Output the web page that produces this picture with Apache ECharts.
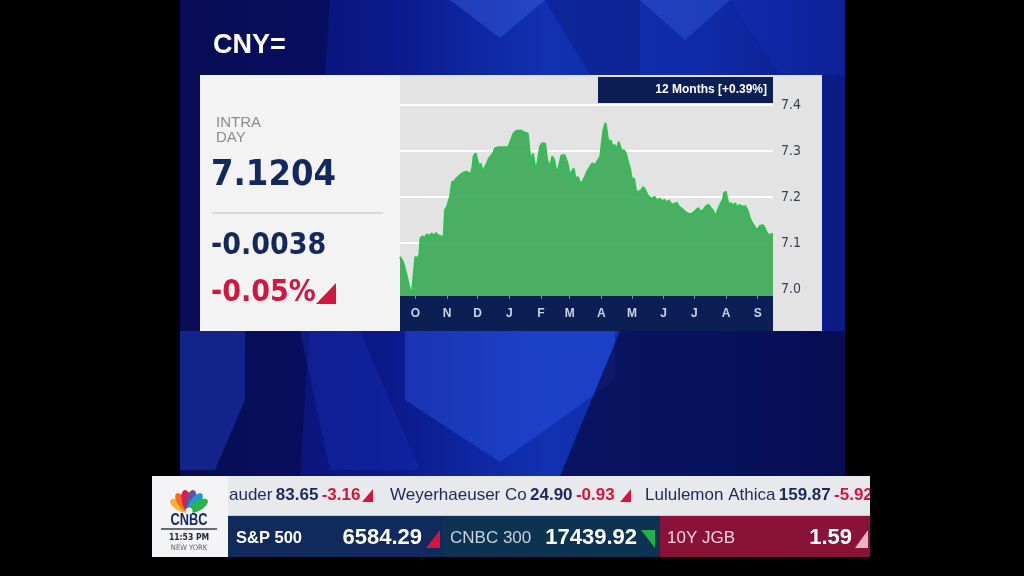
<!DOCTYPE html>
<html>
<head>
<meta charset="utf-8">
<script src="https://cdn.jsdelivr.net/npm/echarts@6/dist/echarts.min.js"></script>
<style>
html,body{margin:0;padding:0;background:#000;}
#c{width:1024px;height:576px;}
</style>
</head>
<body>
<div id="c"></div>
<script>
// ---- data ----
const startDate = '2024-09-16';
// days since startDate
const days = [0,3,6,9,11,12,15,17,19,20,22,24,26,29,31,33,35,37,38,40,42,43,44,46,47,49,51,53,55,57,59,62,65,67,69,71,72,74,76,78,79,81,85,87,91,93,96,101,106,108,111,114,119,122,125,127,129,130,133,135,137,139,142,144,147,149,151,153,155,158,161,164,166,168,170,172,174,176,178,181,183,186,188,191,193,196,197,199,201,202,204,206,208,210,212,214,217,219,221,223,225,227,229,231,234,236,238,240,242,244,247,249,252,254,257,259,261,263,266,268,271,273,275,279,282,285,288,292,294,297,299,302,304,306,309,311,314,316,317,319,320,322,324,326,328,330,332,335,338,340,342,344,346,348,350,352,355,357,359,361,363,365];
const values = [7.070,7.059,7.034,7.005,6.992,6.998,7.070,7.067,7.074,7.110,7.115,7.110,7.119,7.115,7.121,7.115,7.122,7.117,7.114,7.115,7.110,7.121,7.172,7.179,7.179,7.201,7.233,7.233,7.240,7.244,7.248,7.253,7.255,7.253,7.248,7.266,7.288,7.295,7.277,7.263,7.273,7.255,7.273,7.284,7.295,7.306,7.308,7.308,7.309,7.320,7.338,7.344,7.344,7.340,7.338,7.295,7.273,7.295,7.255,7.280,7.309,7.317,7.316,7.280,7.266,7.288,7.280,7.255,7.262,7.291,7.291,7.273,7.248,7.255,7.262,7.237,7.244,7.233,7.230,7.244,7.255,7.266,7.273,7.270,7.277,7.288,7.309,7.345,7.361,7.349,7.316,7.324,7.311,7.313,7.304,7.320,7.299,7.302,7.295,7.277,7.263,7.237,7.241,7.212,7.212,7.215,7.222,7.215,7.205,7.200,7.196,7.201,7.191,7.197,7.191,7.194,7.187,7.193,7.183,7.185,7.187,7.179,7.176,7.168,7.164,7.163,7.168,7.176,7.168,7.172,7.179,7.183,7.176,7.172,7.157,7.172,7.187,7.194,7.208,7.212,7.197,7.183,7.187,7.179,7.187,7.176,7.183,7.179,7.180,7.172,7.157,7.146,7.139,7.132,7.128,7.137,7.139,7.132,7.122,7.117,7.119,7.120];
const monthStarts = ['2024-10-01','2024-11-01','2024-12-01','2025-01-01','2025-02-01','2025-03-01','2025-04-01','2025-05-01','2025-06-01','2025-07-01','2025-08-01','2025-09-01'];
const monthLabels = ['O','N','D','J','F','M','A','M','J','J','A','S'];
const yTickLabels = ['7.0','7.1','7.2','7.3','7.4'];
const quote = {symbol:'CNY=', last:'7.1204', change:'-0.0038', pct:'-0.05%', period:'12 Months [+0.39%]'};
const tickerTop = [
  {name:'auder', price:'83.65', chg:'-3.16'},
  {name:'Weyerhaeuser Co', price:'24.90', chg:'-0.93'},
  {name:'Lululemon Athica', price:'159.87', chg:'-5.92'}
];
const tickerBottom = [
  {name:'S&P 500', price:'6584.29'},
  {name:'CNBC 300', price:'17439.92'},
  {name:'10Y JGB', price:'1.59'}
];

const DAY = 86400000;
const t0 = Date.parse(startDate);
const monthDays = monthStarts.map(d => Math.round((Date.parse(d) - t0) / DAY));
const seriesData = days.map((d, i) => [d, values[i]]);

const chart = echarts.init(document.getElementById('c'));
const SANS = '"Liberation Sans",Arial,sans-serif';
const COND = '"DejaVu Sans Condensed","Liberation Sans",sans-serif';

function txt(text, x, y, font, fill, align, z) {
  return {type:'text', z: z || 6, style:{text, x, y, font, fill, align: align||'left', verticalAlign:'middle', textAlign: align||'left', textVerticalAlign:'middle'}};
}
function poly(points, fill, z) {
  return {type:'polygon', z: z === undefined ? 0 : z, shape:{points}, style:{fill}};
}
function rect(x, y, w, h, fill, z) {
  return {type:'rect', z: z === undefined ? 0 : z, shape:{x, y, width:w, height:h}, style:{fill}};
}
function tickerRich(item, x) {
  return {type:'text', z:6, style:{x, y:495, verticalAlign:'middle', textVerticalAlign:'middle',
    text:'{n|' + item.name + '} {v|' + item.price + '} {c|' + item.chg + '}',
    rich:{n:{font:'17px ' + SANS, fill:'#1b2a5a'}, v:{font:'bold 17px ' + SANS, fill:'#1b2a5a'}, c:{font:'bold 17px ' + SANS, fill:'#d4163c'}}}};
}

// peacock feathers
const featherColors = ['#fbb034','#f26b21','#d6204b','#6a4c9c','#1a9ad6','#2bb24c'];
const featherAngles = [-60,-36,-12,12,36,60];
const feathers = featherColors.map((c, i) => {
  const a = featherAngles[i] * Math.PI / 180;
  const cx = 189 + Math.sin(a) * 10.5, cy = 511 - Math.cos(a) * 10.5;
  return {type:'ellipse', z:7, x: cx, y: cy, rotation: -a,
    shape:{cx:0, cy:0, rx:5, ry:11}, style:{fill:c}};
});

const graphics = [
  // blue panel
  {type:'rect', z:0, shape:{x:180,y:0,width:665,height:476},
   style:{fill:new echarts.graphic.LinearGradient(0,0,1,0,[
     {offset:0,color:'#0a1168'},{offset:0.3,color:'#0b1888'},{offset:0.55,color:'#1131b2'},
     {offset:0.8,color:'#0f2aa6'},{offset:1,color:'#0b1a84'}])}},
  poly([[180,0],[330,0],[300,476],[180,476]], 'rgba(8,10,70,0.55)', 0),
  poly([[450,0],[545,0],[500,38]], 'rgba(70,110,240,0.35)', 0),
  poly([[640,0],[730,0],[685,40]], 'rgba(70,110,240,0.30)', 0),
  poly([[545,0],[640,0],[640,75],[590,75]], 'rgba(10,20,110,0.35)', 0),
  poly([[730,0],[845,0],[845,75],[780,75]], 'rgba(20,50,190,0.35)', 0),
  poly([[405,331],[615,331],[615,380],[500,462],[405,400]], 'rgba(45,90,235,0.40)', 0),
  poly([[620,331],[845,331],[845,476],[560,476]], 'rgba(4,6,55,0.65)', 0),
  poly([[180,331],[245,331],[245,400],[215,470],[180,470]], 'rgba(30,65,205,0.45)', 0),
  poly([[300,331],[360,331],[420,470],[330,470]], 'rgba(25,50,190,0.35)', 0),
  // title
  txt(quote.symbol, 213, 46, 'bold 27px ' + SANS, '#ffffff'),
  // card
  rect(200, 75, 200, 256, '#f3f3f3', 0),
  rect(400, 75, 422, 256, '#e3e3e4', 0),
  txt('INTRA', 216, 123, '15px ' + SANS, '#8c8c8c'),
  txt('DAY', 216, 138, '15px ' + SANS, '#8c8c8c'),
  txt(quote.last, 211, 176, 'bold 36px ' + COND, '#14285e'),
  {type:'line', z:6, shape:{x1:212,y1:213,x2:383,y2:213}, style:{stroke:'#c2c2c2', lineWidth:1}},
  txt(quote.change, 211, 246, 'bold 30px ' + COND, '#14285e'),
  txt(quote.pct, 211, 293, 'bold 30px ' + COND, '#d0173f'),
  poly([[316,304],[336,304],[336,283]], '#d0173f', 6),
  // x-axis band
  rect(400, 296, 373, 35, '#0b1f55', 3),
  // period box
  rect(598, 77, 175, 26, '#0b1f55', 5),
  txt(quote.period, 767, 90, 'bold 12px ' + SANS, '#ffffff', 'right', 6),
  // ticker
  rect(152, 476, 76, 81, '#f4f4f6', 0),
  rect(228, 476, 642, 40, '#e8e9ec', 0),
  rect(228, 515, 642, 1, '#c9ccd6', 1),
  rect(228, 516, 215, 41, '#102a5c', 0),
  rect(443, 516, 217, 41, '#0d3352', 0),
  rect(660, 516, 210, 41, '#891338', 0),
  {type:'circle', z:8, shape:{cx:189, cy:511, r:3.5}, style:{fill:'#f4f4f6'}},
  {type:'text', z:7, x:189, y:521, scaleX:0.8,
   style:{text:'CNBC', x:0, y:0, font:'bold 16px ' + SANS, fill:'#12285e', align:'center', verticalAlign:'middle', textAlign:'center', textVerticalAlign:'middle'}},
  {type:'line', z:7, shape:{x1:161,y1:529,x2:217,y2:529}, style:{stroke:'#3a3f4e', lineWidth:1.5}},
  txt('11:53 PM', 189, 538, 'bold 8.5px ' + COND, '#20263a', 'center', 7),
  txt('NEW YORK', 189, 548, '7.5px ' + COND, '#5a6070', 'center', 7),
  tickerRich(tickerTop[0], 229),
  poly([[362,502],[373,502],[373,489]], '#d4163c', 6),
  tickerRich(tickerTop[1], 390),
  poly([[620,502],[631,502],[631,489]], '#d4163c', 6),
  tickerRich(tickerTop[2], 645),
  rect(870, 476, 154, 81, '#000000', 7),
  txt(tickerBottom[0].name, 236, 538, 'bold 16.5px ' + SANS, '#ffffff', 'left', 6),
  txt(tickerBottom[0].price, 422, 538, 'bold 22px ' + SANS, '#ffffff', 'right', 6),
  poly([[426,548],[440,548],[440,530]], '#d4163c', 6),
  txt(tickerBottom[1].name, 450, 538, '17px ' + SANS, '#c9d1dd', 'left', 6),
  txt(tickerBottom[1].price, 637, 538, 'bold 22px ' + SANS, '#ffffff', 'right', 6),
  poly([[641,530],[655,530],[655,548]], '#22b04a', 6),
  txt(tickerBottom[2].name, 667, 538, '17px ' + SANS, '#f2d3dc', 'left', 6),
  txt(tickerBottom[2].price, 852, 538, 'bold 22px ' + SANS, '#ffffff', 'right', 6),
  poly([[855,548],[868,548],[868,530]], '#e6b3c2', 6)
].concat(feathers);

chart.setOption({
  backgroundColor:'#000000',
  animation:false,
  graphic:{elements:graphics},
  grid:{left:400, right:251, top:105, bottom:280, containLabel:false},
  xAxis:{
    type:'value', min:0, max:365, z:4,
    axisLine:{show:false},
    splitLine:{show:false},
    axisTick:{show:true, customValues:monthDays, length:3, lineStyle:{color:'#7f8bb0', width:1}},
    axisLabel:{customValues:monthDays, margin:12, color:'#ccd3e2', fontWeight:'bold', fontSize:12, fontFamily:SANS,
      formatter:function(v){ const i = monthDays.indexOf(Math.round(v)); return i >= 0 ? monthLabels[i] : ''; }}
  },
  yAxis:{
    type:'value', position:'right', min:6.985, max:7.4, z:1,
    axisLine:{show:false}, axisTick:{show:false},
    splitLine:{show:true, lineStyle:{color:'#ffffff', width:2}},
    axisLabel:{showMinLabel:false, margin:8, color:'#3a3f4c', fontSize:14, fontFamily:COND,
      formatter:function(v){ const s = v.toFixed(1); return yTickLabels.indexOf(s) >= 0 && Math.abs(v - parseFloat(s)) < 1e-6 ? s : ''; }}
  },
  series:[{
    type:'line', data:seriesData, z:2, showSymbol:false, smooth:false,
    lineStyle:{color:'#2fc04f', width:2},
    areaStyle:{color:'#3eaa59', opacity:0.93, origin:'start'}
  }]
});
</script>
</body>
</html>
